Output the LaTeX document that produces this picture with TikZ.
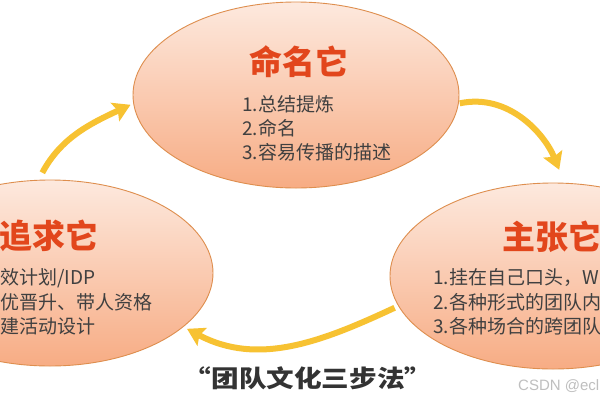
\documentclass[tikz,border=0pt]{standalone}
\usepackage{fontspec}
\newfontfamily\cjk{Noto Sans CJK SC}
\newfontfamily\wm{Liberation Sans}
\usetikzlibrary{shapes.geometric,arrows.meta}
\definecolor{fillTop}{HTML}{FDE9DE}
\definecolor{fillBot}{HTML}{F7AC84}
\definecolor{rim}{HTML}{DE8E4E}
\definecolor{headred}{HTML}{E2461C}
\definecolor{txtgray}{HTML}{404040}
\definecolor{arrowy}{HTML}{F7C232}
\tikzset{
  blob/.style={ellipse, draw=rim, line width=0.9pt, top color=fillTop, bottom color=fillBot,
    minimum width=326pt, minimum height=186pt, inner sep=0pt},
  head/.style={font=\cjk\bfseries\fontsize{33}{36}\selectfont, text=headred, inner sep=0pt},
  item/.style={font=\cjk\fontsize{19}{22}\selectfont, text=txtgray, inner sep=0pt, anchor=west},
  flow/.style={draw=arrowy, line width=6pt, -{Stealth[length=17pt,width=20pt,inset=3pt]}},
}
\begin{document}
\begin{tikzpicture}[x=1pt,y=-1pt]
\useasboundingbox (0,0) rectangle (600,400);
\clip (0,0) rectangle (600,400);
\fill[white] (0,0) rectangle (600,400);
% ellipses
\node[blob] (top) at (296,95) {};
\node[blob] (left) at (50,273) {};
\node[blob] (right) at (553,276) {};
% texts top
\node[head] (tophead) at (299,62) {命名它};
\node[item] (t1) at (242,104) {1.总结提炼};
\node[item] (t2) at (242,128) {2.命名};
\node[item] (t3) at (242,152) {3.容易传播的描述};
% texts left
\node[head, anchor=west] (lefthead) at (-1,236) {追求它};
\node[item] (l1) at (0,278) {效计划/IDP};
\node[item] (l2) at (0,302) {优晋升、带人资格};
\node[item] (l3) at (0,326) {建活动设计};
% texts right
\node[head, anchor=west] (righthead) at (502,237) {主张它};
\node[item] (r1) at (433,278) {1.挂在自己口头，W};
\node[item] (r2) at (433,302) {2.各种形式的团队内};
\node[item] (r3) at (433,326) {3.各种场合的跨团队};
% arrows
\draw[flow, shorten <=8pt, shorten >=3pt] (left.97) to[out=62, in=205] (top.183);
\draw[flow, shorten <=1pt, shorten >=14pt] (top.-3) to[out=12, in=112] (right.83);
\draw[flow, shorten <=4pt, shorten >=4pt] (right.191) to[out=205, in=-28] (left.-22);
% caption
\node[font=\cjk\bfseries\fontsize{24}{28}\selectfont, text=black!80, inner sep=0pt, xscale=1.15] (cap) at (308,378) {“团队文化三步法”};
\node[font=\wm\fontsize{15}{17}\selectfont, text=black!25, inner sep=0pt, anchor=west] (mark) at (518,386) {CSDN @ecl};
\end{tikzpicture}
\end{document}
